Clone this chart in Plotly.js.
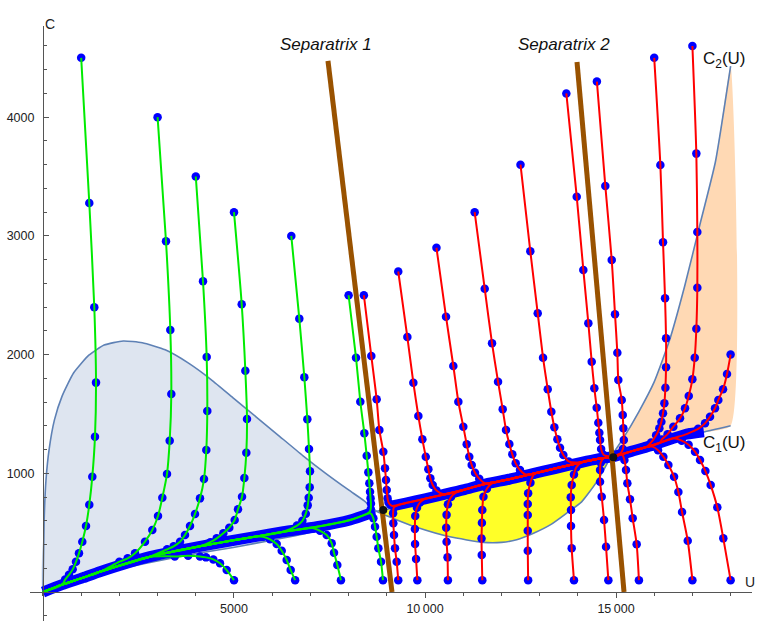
<!DOCTYPE html>
<html>
<head>
<meta charset="utf-8">
<script src="https://cdn.plot.ly/plotly-3.0.1.min.js"></script>
<style>html,body{margin:0;padding:0;background:#fff;}#chart{width:760px;height:621px;}</style>
</head>
<body>
<div id="chart"></div>
<script>
// ---------- data (U, C) ----------
const C2_CURVE = [[0,0],[30,600],[80,950],[160,1200],[300,1450],[500,1650],[800,1845],[1200,1995],[1600,2080],[2100,2115],[2600,2100],[3200,2040],[3800,1930],[4400,1790],[5000,1630],[5600,1470],[6200,1310],[6800,1150],[7400,1000],[8000,860],[8400,770],[8735,680],[9170,620],[9780,545],[10650,465],[11530,418],[12000,418],[12400,440],[12840,495],[13300,570],[13710,665],[14100,760],[14500,930],[14870,1140],[15200,1300],[15600,1520],[16000,1770],[16400,2120],[16800,2580],[17200,3100],[17600,3620],[18000,4430]];
const C1_CURVE = [[0,0],[500,55],[1050,110],[1490,150],[2360,220],[2800,250],[4110,330],[4980,375],[5550,410],[6290,455],[7170,515],[8040,590],[8735,680],[9170,705],[10000,765],[11000,840],[12000,915],[13000,990],[14000,1070],[14870,1140],[15500,1195],[16440,1275],[17200,1340],[18000,1400]];
const CROSS_U = [8735, 14870];

// slow manifold bands (listed in flow direction)
const BAND_LEFT  = [[8560,663],[8040,607],[7170,550],[6290,508],[5550,466],[4110,385],[2800,298],[1490,171],[1050,121],[500,62],[0,0]];
const BAND_MID   = [[9150,725],[9500,750],[10000,785],[10500,822],[11000,860],[11600,912],[12200,950],[12800,995],[13400,1040],[14100,1093],[14500,1120],[14930,1140]];
const BAND_RIGHT = [[17300,1350],[16850,1330],[16500,1295],[16150,1258],[15800,1222],[15400,1185],[14930,1140]];

// green trajectories (flow to origin)
const G1 = [[1000,4500],[1212,3277],[1343,2399],[1388,1764],[1361,1309],[1291,972],[1212,736],[1126,556],[1029,424],[942,326],[864,255],[777,191],[680,145],[580,105]];
const G2 = [[3000,4000],[3220,2955],[3333,2207],[3359,1668],[3317,1275],[3246,994],[3124,795],[3011,640],[2862,522],[2670,424],[2409,326],[2217,284],[2000,255]];
const G3 = [[4000,3500],[4189,2618],[4285,1980],[4301,1525],[4275,1196],[4215,952],[4110,789],[3979,657],[3848,556],[3717,480],[3587,424],[3420,385],[3250,360]];
const G4 = [[5000,3200],[5202,2424],[5297,1864],[5341,1458],[5323,1174],[5271,960],[5210,803],[5105,697],[5018,607],[4877,542],[4720,495],[4547,452],[4380,420]];
const G5 = [[6500,3000],[6710,2303],[6841,1809],[6920,1455],[6964,1205],[6990,1017],[6982,882],[6956,795],[6930,730],[6880,660],[6790,600],[6650,560]];
const G6 = [[8000,2500],[8194,1974],[8307,1603],[8412,1337],[8474,1148],[8517,1008],[8543,916],[8561,845],[8575,789],[8585,745],[8580,700],[8540,672]];
const GB1 = [[5000,100],[4809,185],[4634,242],[4459,275],[4267,292],[4110,300],[3800,305],[3450,300]];
const GB2 = [[6600,100],[6484,185],[6380,270],[6249,348],[6118,404],[5943,444],[5760,466]];
const GB3 = [[7800,100],[7705,227],[7618,331],[7558,410],[7427,480],[7252,516],[7080,538]];
const GB4 = [[8900,100],[8849,255],[8779,368],[8735,466],[8692,550],[8648,621],[8600,655]];

// red trajectories between the separatrices (flow right along the band)
const R0 = [[8400,2500],[8595,1988],[8735,1623],[8805,1365],[8909,1182],[8953,1042],[8979,944],[8998,859],[9020,789],[9045,755],[9090,735]];
const R1 = [[9300,2700],[9538,2148],[9695,1763],[9826,1483],[9931,1287],[10020,1140],[10088,1034],[10140,958],[10202,901],[10300,855]];
const R2 = [[10300,2900],[10550,2319],[10742,1904],[10873,1603],[11003,1393],[11092,1244],[11160,1140],[11223,1070],[11310,1005],[11420,955]];
const R3 = [[11300,3200],[11563,2555],[11755,2095],[11912,1772],[12034,1539],[12121,1365],[12208,1247],[12286,1160],[12374,1084],[12487,1028],[12620,992]];
const R4 = [[12500,3600],[12757,2870],[12951,2348],[13090,1974],[13213,1708],[13307,1519],[13386,1388],[13465,1287],[13535,1216],[13622,1154],[13760,1100]];
const R5 = [[13700,4200],[13972,3330],[14145,2713],[14276,2264],[14364,1940],[14433,1716],[14495,1553],[14537,1426],[14564,1342],[14583,1281],[14610,1205],[14680,1155]];
const RB9300  = [[9300,100],[9259,255],[9215,368],[9189,480],[9171,579],[9165,663],[9190,715]];
const RB9800  = [[9800,100],[9766,278],[9740,404],[9735,530],[9745,640],[9790,710],[9870,755]];
const RB10600 = [[10600,100],[10590,292],[10565,424],[10555,542],[10565,650],[10600,740],[10680,800],[10800,835]];
const RB11500 = [[11500,100],[11486,312],[11480,450],[11490,584],[11500,691],[11530,803],[11620,870],[11750,915]];
const RB12700 = [[12700,100],[12690,348],[12690,516],[12690,649],[12690,741],[12700,832],[12760,920],[12850,990]];
const RB13900 = [[13900,100],[13840,368],[13822,556],[13822,691],[13815,798],[13840,901],[13900,990],[13960,1050]];
const RB14800 = [[14800,100],[14739,382],[14687,607],[14626,803],[14583,929],[14583,1028],[14600,1090],[14680,1128]];

// red trajectories right of separatrix 2 (flow left along the band)
const R6 = [[14500,4300],[14720,3421],[14888,2797],[14974,2340],[15035,2016],[15061,1786],[15150,1618],[15176,1491],[15192,1379],[15205,1281],[15180,1205],[15120,1170]];
const RT1 = [[16000,4500],[16161,3597],[16231,2946],[16284,2474],[16310,2137],[16310,1893],[16293,1721],[16266,1590],[16231,1506],[16188,1435],[16135,1379],[16050,1320],[15920,1260]];
const RT2 = [[17000,4600],[17103,3693],[17129,3033],[17129,2564],[17103,2218],[17061,1974],[16999,1792],[16904,1651],[16807,1548],[16676,1463],[16501,1393],[16350,1330],[16200,1285]];
const RR  = [[18000,2000],[17906,1837],[17802,1708],[17679,1618],[17592,1548],[17461,1477],[17330,1421],[17150,1375],[16950,1345]];
const RB15600 = [[15600,100],[15541,402],[15437,621],[15367,781],[15297,916],[15262,1028],[15220,1112],[15150,1165]];
const RB17000 = [[17000,100],[16878,432],[16729,674],[16633,842],[16520,971],[16371,1070],[16240,1140],[16100,1195],[15950,1225]];
const RB18000 = [[18000,100],[17809,452],[17652,714],[17479,901],[17340,1019],[17199,1112],[17068,1182],[16900,1240],[16720,1275]];

const SEP1 = [[7460,4474],[9136,0]];
const SEP2 = [[13979,4465],[15210,0]];
const EQUIL = [[8909,691],[14929,1135]];

const X_TICKS = [5000,10000,15000];
const X_TICKTEXT = ['5000','10\u2009000','15\u2009000'];
const Y_TICKS = [1000,2000,3000,4000];
const Y_TICKTEXT = ['1000','2000','3000','4000'];

// ---------- build ----------
const X_RANGE = [-340, 18560];
const Y_RANGE = [-244, 4768];
const xs = a => a.map(p => p[0]);
const ys = a => a.map(p => p[1]);
function follow(traj, band, dir){
  const last = traj[traj.length-1][0];
  return traj.concat(band.filter(p => dir < 0 ? p[0] < last : p[0] > last));
}
function region(upper, lower, u0, u1){
  const a = upper.filter(p => p[0] >= u0 && p[0] <= u1);
  const b = lower.filter(p => p[0] >= u0 && p[0] <= u1).reverse();
  return a.concat(b);
}
const curveCol = 'rgb(94,129,181)';
const traces = [];
function fillTrace(poly, col){
  traces.push({x:xs(poly), y:ys(poly), mode:'lines', fill:'toself', fillcolor:col,
    line:{width:0, color:col, shape:'spline', smoothing:0.5}, hoverinfo:'skip', showlegend:false});
}
fillTrace(region(C2_CURVE, C1_CURVE, 0, CROSS_U[0]), 'rgb(222,229,240)');
fillTrace(region(C1_CURVE, C2_CURVE, CROSS_U[0], CROSS_U[1]), 'rgb(255,255,40)');
fillTrace(region(C2_CURVE, C1_CURVE, CROSS_U[1], 18000), 'rgb(255,217,180)');
[C1_CURVE, C2_CURVE].forEach(c => traces.push({x:xs(c), y:ys(c), mode:'lines',
  line:{color:curveCol, width:1.6, shape:'spline', smoothing:0.5}, hoverinfo:'skip', showlegend:false}));

[BAND_LEFT, BAND_MID, BAND_RIGHT].forEach(b => traces.push({x:xs(b), y:ys(b), mode:'lines',
  line:{color:'rgb(0,0,255)', width:11, shape:'spline', smoothing:0.6}, hoverinfo:'skip', showlegend:false}));

const greens = [G1,G2,G3,G4,G5,G6,GB1,GB2,GB3,GB4].map(t => ({pts:t, path:follow(t, BAND_LEFT, -1), col:'rgb(0,235,0)'}));
const redsMid = [R0,R1,R2,R3,R4,R5,RB9300,RB9800,RB10600,RB11500,RB12700,RB13900,RB14800].map(t => ({pts:t, path:follow(t, BAND_MID, 1), col:'rgb(255,0,0)'}));
const redsRight = [R6,RT1,RT2,RR,RB15600,RB17000,RB18000].map(t => ({pts:t, path:follow(t, BAND_RIGHT, -1), col:'rgb(255,0,0)'}));
const all = greens.concat(redsMid, redsRight);

all.forEach(t => traces.push({x:xs(t.pts), y:ys(t.pts), mode:'markers',
  marker:{color:'rgb(0,0,255)', size:8.5, line:{width:0}}, hoverinfo:'skip', showlegend:false}));
all.forEach(t => traces.push({x:xs(t.path), y:ys(t.path), mode:'lines',
  line:{color:t.col, width:2, shape:'spline', smoothing:0.7}, hoverinfo:'skip', showlegend:false}));

[SEP1, SEP2].forEach(s => traces.push({x:xs(s), y:ys(s), mode:'lines',
  line:{color:'rgb(153,82,0)', width:5}, hoverinfo:'skip', showlegend:false}));
traces.push({x:xs(EQUIL), y:ys(EQUIL), mode:'markers', marker:{color:'#111', size:8},
  hoverinfo:'skip', showlegend:false});

const FONT = 'Liberation Sans, Arial, sans-serif';
const axisCommon = {showgrid:false, zeroline:false, showline:true, linecolor:'#555', linewidth:1,
  tickcolor:'#555', tickwidth:1, anchor:'free', automargin:false, fixedrange:true,
  tickfont:{family:FONT, size:12.5, color:'#222'}, tickmode:'array'};

const layout = {
  width:760, height:621,
  margin:{l:30, r:8, t:26, b:0, pad:0},
  paper_bgcolor:'#fff', plot_bgcolor:'#fff',
  showlegend:false,
  xaxis: Object.assign({}, axisCommon, {range:X_RANGE, position:244/5012,
    ticks:'outside', ticklen:5, tickvals:X_TICKS, ticktext:X_TICKTEXT,
    minor:{ticks:'outside', ticklen:3, dtick:1000, tick0:0, tickcolor:'#555', showgrid:false}}),
  yaxis: Object.assign({}, axisCommon, {range:Y_RANGE, position:340/18900,
    ticks:'inside', ticklen:5, tickvals:Y_TICKS, ticktext:Y_TICKTEXT, ticklabelstandoff:6,
    minor:{ticks:'inside', ticklen:3, dtick:200, tick0:0, tickcolor:'#555', showgrid:false}}),
  annotations:[
    {text:'<i>Separatrix 1</i>', x:7396, y:4608, xref:'x', yref:'y', showarrow:false,
     font:{family:FONT, size:17, color:'#111'}},
    {text:'<i>Separatrix 2</i>', x:13627, y:4608, xref:'x', yref:'y', showarrow:false,
     font:{family:FONT, size:17, color:'#111'}},
    {text:'C<sub>2</sub>(U)', x:17226, y:4480, xref:'x', yref:'y', xanchor:'left', showarrow:false,
     font:{family:FONT, size:17, color:'#111'}},
    {text:'C<sub>1</sub>(U)', x:17226, y:1250, xref:'x', yref:'y', xanchor:'left', showarrow:false,
     font:{family:FONT, size:17, color:'#111'}},
    {text:'C', x:(42.7-30)/722, y:(621-14)/595, xref:'paper', yref:'paper', showarrow:false,
     font:{family:FONT, size:14, color:'#222'}},
    {text:'U', x:(757-30)/722, y:(621-592)/595, xref:'paper', yref:'paper', showarrow:false,
     font:{family:FONT, size:14, color:'#222'}}
  ]
};
Plotly.newPlot('chart', traces, layout, {staticPlot:true, displayModeBar:false});
</script>
</body>
</html>
